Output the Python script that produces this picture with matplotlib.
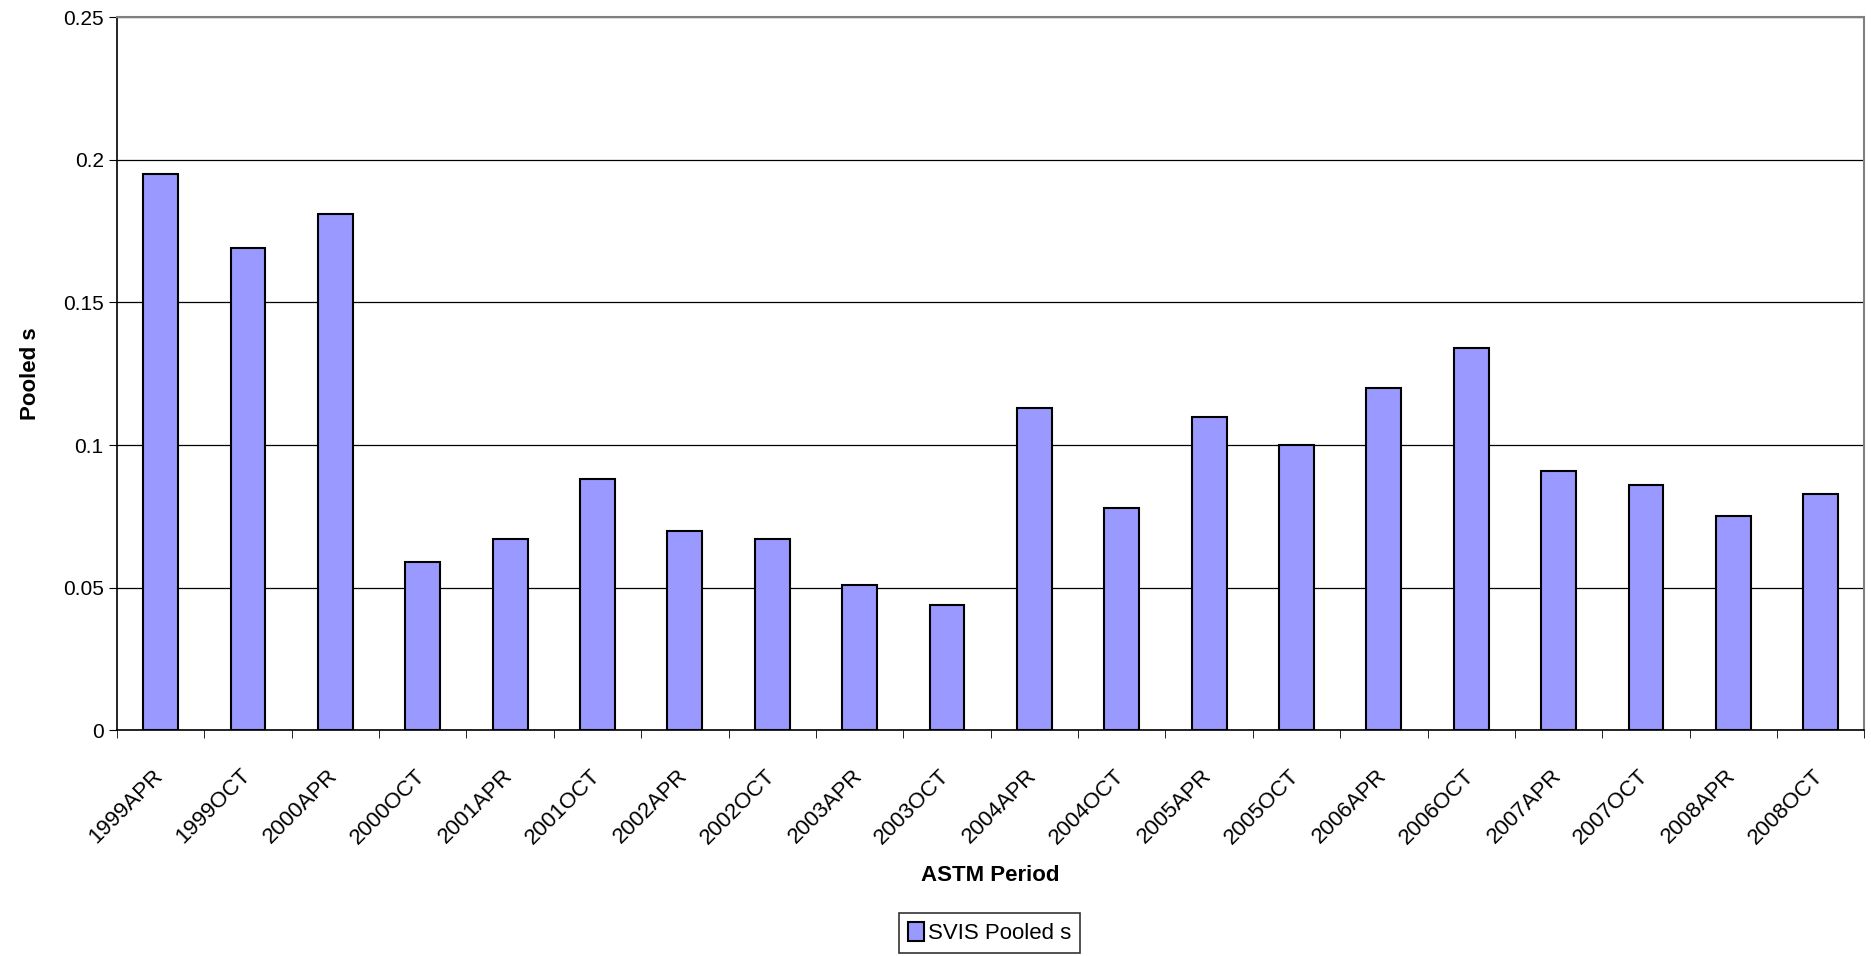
import numpy as np
import matplotlib.pyplot as plt
import matplotlib.transforms as mtransforms

plt.rcParams['font.family'] = ['Liberation Sans', 'DejaVu Sans']

periods = ['1999APR', '1999OCT', '2000APR', '2000OCT', '2001APR', '2001OCT',
           '2002APR', '2002OCT', '2003APR', '2003OCT', '2004APR', '2004OCT',
           '2005APR', '2005OCT', '2006APR', '2006OCT', '2007APR', '2007OCT',
           '2008APR', '2008OCT']
pooled_s = [0.195, 0.169, 0.181, 0.059, 0.067, 0.088, 0.070, 0.067, 0.051, 0.044,
            0.113, 0.078, 0.110, 0.100, 0.120, 0.134, 0.091, 0.086, 0.075, 0.083]
yticks = [0, 0.05, 0.1, 0.15, 0.2, 0.25]
yticklabels = ['0', '0.05', '0.1', '0.15', '0.2', '0.25']

fig = plt.figure(figsize=(18.71, 9.56), dpi=100)
ax = fig.add_axes([0.0625, 0.236, 0.934, 0.746])

x = np.arange(len(periods))
ax.bar(x, pooled_s, width=0.4, color='#9999ff', edgecolor='black', linewidth=1.5,
       label='SVIS Pooled s', zorder=3)

ax.set_xlim(-0.5, len(periods) - 0.5)
ax.set_ylim(0, 0.25)
ax.set_yticks(yticks)
ax.set_yticklabels(yticklabels, fontsize=15)
ax.yaxis.grid(True, color='black', linewidth=0.9, zorder=0)

# category labels at centres, tick marks at boundaries
ax.set_xticks(x)
ax.set_xticklabels(periods, rotation=45, ha='right', rotation_mode='anchor', fontsize=16)
ax.tick_params(axis='x', which='major', length=0, pad=25)
shift = mtransforms.ScaledTranslation(-8 / 100, 0, fig.dpi_scale_trans)
for lbl in ax.get_xticklabels():
    lbl.set_transform(lbl.get_transform() + shift)
ax.set_xticks(np.arange(len(periods) + 1) - 0.5, minor=True)
ax.tick_params(axis='x', which='minor', length=6, direction='out', color='black')
ax.tick_params(axis='y', length=6, direction='out', color='black')

for side in ['top', 'right']:
    ax.spines[side].set_color('#808080')
    ax.spines[side].set_linewidth(1.5)
for side in ['left', 'bottom']:
    ax.spines[side].set_color('black')
    ax.spines[side].set_linewidth(1.2)

ax.set_ylabel('Pooled s', fontsize=16, fontweight='bold', labelpad=16)
ax.set_xlabel('ASTM Period', fontsize=16, fontweight='bold', labelpad=12)

leg = fig.legend(loc='center', bbox_to_anchor=(0.529, 0.024), fontsize=16,
                 frameon=True, fancybox=False, handlelength=0.7, handleheight=0.9,
                 handletextpad=0.2, borderpad=0.4)
leg.get_frame().set_edgecolor('black')
leg.get_frame().set_linewidth(1.2)

plt.savefig('out.png', dpi=100)
